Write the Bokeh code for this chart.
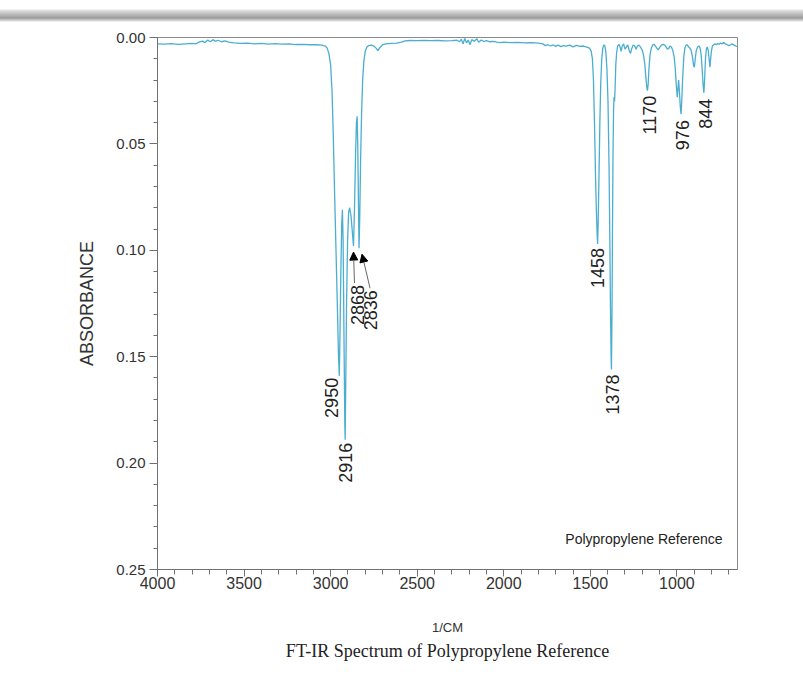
import math
from bokeh.plotting import figure
from bokeh.models import (Range1d, FixedTicker, NumeralTickFormatter, Label, Arrow,
                          NormalHead, Title, Div)
from bokeh.layouts import column
from bokeh.core.properties import value
from bokeh.embed import file_html
from bokeh.resources import INLINE

# ---------------- data ----------------
wavenumber = [
    4000, 3960, 3920, 3880, 3840, 3800, 3780, 3760, 3740, 3725, 3710, 3695, 3680, 3665,
    3650, 3630, 3610, 3590, 3560, 3520, 3480, 3440, 3400, 3360, 3320, 3280, 3240, 3200,
    3160, 3120, 3080, 3050, 3030, 3020, 3010, 3000, 2992, 2985, 2978, 2972, 2966, 2960,
    2955, 2950, 2946, 2941, 2936, 2932, 2928, 2923, 2918, 2916, 2913, 2908, 2902, 2896,
    2890, 2882, 2875, 2868, 2862, 2856, 2851, 2847, 2843, 2839, 2836, 2832, 2827, 2821,
    2815, 2808, 2800, 2790, 2780, 2765, 2750, 2738, 2727, 2716, 2700, 2680, 2650, 2620,
    2590, 2570, 2540, 2500, 2460, 2420, 2380, 2340, 2300, 2270, 2255, 2245, 2235, 2225,
    2215, 2205, 2195, 2185, 2170, 2155, 2145, 2130, 2115, 2100, 2080, 2060, 2040, 2020,
    2000, 1960, 1920, 1880, 1840, 1800, 1775, 1760, 1745, 1730, 1715, 1700, 1685, 1670,
    1655, 1640, 1620, 1600, 1580, 1560, 1540, 1520, 1505, 1495, 1488, 1482, 1476, 1470,
    1465, 1460, 1458, 1455, 1450, 1445, 1440, 1434, 1428, 1422, 1416, 1410, 1404, 1398,
    1392, 1388, 1384, 1380, 1378, 1375, 1372, 1369, 1366, 1363, 1360, 1357, 1353, 1348,
    1342, 1335, 1328, 1322, 1316, 1308, 1300, 1292, 1284, 1276, 1268, 1260, 1252, 1244,
    1236, 1228, 1220, 1210, 1200, 1192, 1185, 1179, 1173, 1170, 1166, 1161, 1155, 1148,
    1140, 1132, 1124, 1116, 1108, 1100, 1090, 1080, 1070, 1062, 1054, 1046, 1040, 1032,
    1024, 1016, 1010, 1004, 998, 994, 990, 985, 980, 976, 972, 966, 960, 954,
    947, 940, 932, 925, 918, 910, 904, 899, 894, 888, 880, 872, 866, 860,
    854, 849, 844, 840, 835, 830, 825, 819, 814, 809, 805, 800, 795, 788,
    780, 772, 764, 756, 748, 740, 730, 720, 710, 700, 690, 680, 670, 660, 650,
]
absorbance = [
    0.0030, 0.0031, 0.0029, 0.0032, 0.0030, 0.0028, 0.0030, 0.0022, 0.0017, 0.0024, 0.0012, 0.0020, 0.0010, 0.0018,
    0.0013, 0.0020, 0.0016, 0.0022, 0.0025, 0.0028, 0.0026, 0.0030, 0.0028, 0.0031, 0.0029, 0.0031, 0.0030, 0.0033,
    0.0032, 0.0034, 0.0034, 0.0036, 0.0040, 0.0050, 0.0075, 0.0130, 0.0250, 0.0450, 0.0700, 0.0900, 0.1100, 0.1300,
    0.1480, 0.1590, 0.1400, 0.1100, 0.0880, 0.0810, 0.0950, 0.1400, 0.1820, 0.1890, 0.1650, 0.1250, 0.0950, 0.0820,
    0.0800, 0.0840, 0.0910, 0.0980, 0.0800, 0.0550, 0.0400, 0.0370, 0.0520, 0.0800, 0.0990, 0.0850, 0.0580, 0.0350,
    0.0200, 0.0110, 0.0065, 0.0045, 0.0038, 0.0036, 0.0040, 0.0050, 0.0062, 0.0048, 0.0034, 0.0030, 0.0028, 0.0026,
    0.0022, 0.0016, 0.0014, 0.0015, 0.0014, 0.0015, 0.0014, 0.0016, 0.0015, 0.0013, 0.0020, 0.0008, 0.0030, 0.0005,
    0.0025, 0.0012, 0.0034, 0.0010, 0.0018, 0.0006, 0.0022, 0.0012, 0.0019, 0.0015, 0.0020, 0.0018, 0.0022, 0.0024,
    0.0022, 0.0024, 0.0023, 0.0025, 0.0024, 0.0026, 0.0030, 0.0038, 0.0034, 0.0040, 0.0035, 0.0042, 0.0036, 0.0043,
    0.0038, 0.0041, 0.0036, 0.0044, 0.0037, 0.0042, 0.0040, 0.0045, 0.0050, 0.0065, 0.0100, 0.0200, 0.0400, 0.0650,
    0.0820, 0.0940, 0.0970, 0.0880, 0.0650, 0.0400, 0.0220, 0.0100, 0.0050, 0.0035, 0.0040, 0.0070, 0.0150, 0.0300,
    0.0600, 0.0900, 0.1250, 0.1500, 0.1560, 0.1300, 0.0900, 0.0550, 0.0350, 0.0280, 0.0300, 0.0240, 0.0130, 0.0070,
    0.0040, 0.0032, 0.0045, 0.0065, 0.0040, 0.0030, 0.0055, 0.0045, 0.0035, 0.0060, 0.0075, 0.0050, 0.0035, 0.0040,
    0.0055, 0.0040, 0.0036, 0.0045, 0.0060, 0.0085, 0.0130, 0.0190, 0.0240, 0.0250, 0.0220, 0.0140, 0.0080, 0.0050,
    0.0035, 0.0032, 0.0040, 0.0050, 0.0058, 0.0048, 0.0036, 0.0032, 0.0036, 0.0045, 0.0055, 0.0050, 0.0040, 0.0045,
    0.0060, 0.0090, 0.0140, 0.0220, 0.0280, 0.0240, 0.0200, 0.0260, 0.0330, 0.0360, 0.0300, 0.0180, 0.0090, 0.0050,
    0.0035, 0.0035, 0.0045, 0.0050, 0.0060, 0.0090, 0.0130, 0.0140, 0.0100, 0.0060, 0.0045, 0.0040, 0.0050, 0.0080,
    0.0150, 0.0220, 0.0260, 0.0200, 0.0100, 0.0055, 0.0045, 0.0060, 0.0100, 0.0140, 0.0100, 0.0060, 0.0040, 0.0034,
    0.0030, 0.0034, 0.0028, 0.0032, 0.0026, 0.0030, 0.0024, 0.0030, 0.0034, 0.0038, 0.0034, 0.0030, 0.0036, 0.0040, 0.0042,
]

# labelled peaks
peak_labels = ["2950", "2916", "2868", "2836", "1458", "1378", "1170", "976", "844"]
peak_wn = [2950, 2916, 2868, 2836, 1458, 1378, 1170, 976, 844]
peak_abs = [0.159, 0.189, 0.098, 0.099, 0.097, 0.156, 0.025, 0.036, 0.026]

x_major_ticks = [4000, 3500, 3000, 2500, 2000, 1500, 1000]
x_minor_ticks = list(range(3900, 650, -100))
y_major_ticks = [0.00, 0.05, 0.10, 0.15, 0.20, 0.25]
y_minor_ticks = [i / 100 for i in range(0, 26)]

title_text = "FT-IR Spectrum of Polypropylene Reference"
x_label = "1/CM"
y_label = "ABSORBANCE"
inner_label = "Polypropylene Reference"

# ---------------- figure ----------------
FRAME_W, FRAME_H = 580, 532
X0, X1 = 4000, 650
Y0, Y1 = 0.25, 0.0
px_x = (X0 - X1) / FRAME_W      # cm-1 per pixel
px_y = (Y0 - Y1) / FRAME_H      # absorbance per pixel

p = figure(width=768, height=650, x_range=Range1d(X0, X1), y_range=Range1d(Y0, Y1),
           output_backend="svg", toolbar_location=None,
           min_border_left=157, min_border_right=31, min_border_top=15, min_border_bottom=103)
p.background_fill_color = "white"
p.border_fill_color = "white"
p.grid.visible = False
p.outline_line_color = "#8a8a8a"
p.outline_line_width = 1

LINE_BLUE = "#4aaed0"
p.line(wavenumber, absorbance, line_color=LINE_BLUE, line_width=1.3)

# axes styling
for ax in (p.xaxis[0], p.yaxis[0]):
    ax.axis_line_color = "#707070"
    ax.major_tick_line_color = "#707070"
    ax.minor_tick_line_color = "#707070"
    ax.major_tick_in = 0
    ax.minor_tick_in = 0
    ax.major_label_text_font = "Liberation Sans"
    ax.major_label_text_font_size = "15px"
    ax.major_label_text_color = "#333333"
    ax.axis_label_text_font = "Liberation Sans"
    ax.axis_label_text_font_style = "normal"
    ax.axis_label_text_color = "#333333"

p.xaxis.ticker = FixedTicker(ticks=x_major_ticks, minor_ticks=x_minor_ticks)
p.xaxis.formatter = NumeralTickFormatter(format="0")
p.xaxis.major_tick_out = 7
p.xaxis.minor_tick_out = 5
p.xaxis.major_label_standoff = 0
p.xaxis.major_label_text_font_size = "16px"
p.xaxis.axis_label = x_label
p.xaxis.axis_label_text_font_size = "13px"
p.xaxis.axis_label_standoff = 28

p.yaxis.ticker = FixedTicker(ticks=y_major_ticks, minor_ticks=y_minor_ticks)
p.yaxis.formatter = NumeralTickFormatter(format="0.00")
p.yaxis.major_tick_out = 8
p.yaxis.minor_tick_out = 4
p.yaxis.major_label_standoff = 4
p.yaxis.axis_label = y_label
p.yaxis.axis_label_text_font_size = "18px"
p.yaxis.axis_label_standoff = 16

# title below
p.add_layout(Title(text=title_text, align="center", text_font="Liberation Serif",
                   text_font_size="18px", text_font_style="normal", text_color="#222222",
                   standoff=2), "below")

# peak labels (rotated), offsets in screen pixels converted to data units
label_dx = [-8, 0, 4, 11, 0, 1, 2, 1, 2]
label_dy = [2, 3, 39, 42, 4, 5, 5, 6, 6]
lx = [w - dx * px_x for w, dx in zip(peak_wn, label_dx)]
ly = [a + dy * px_y for a, dy in zip(peak_abs, label_dy)]
p.text(x=lx, y=ly, text=peak_labels, angle=math.pi / 2, text_align="right",
       text_baseline="middle", text_font=value("Liberation Sans"),
       text_font_size=value("18px"), text_color="#222222")

# arrows to 2868 and 2836
arrow_specs = [(2, (1, 37), (0, 6)), (3, (11, 40), (3, 6))]
for idx, (sx0, sy0), (sx1, sy1) in arrow_specs:
    w, a = peak_wn[idx], peak_abs[idx]
    p.add_layout(Arrow(end=NormalHead(size=8, fill_color="black", line_color="black"),
                       x_start=w - sx0 * px_x, y_start=a + sy0 * px_y,
                       x_end=w - sx1 * px_x, y_end=a + sy1 * px_y,
                       line_color="#666666", line_width=1))

# inner label
p.add_layout(Label(x=X1 + 15 * px_x, y=Y0 - 31 * px_y, text=inner_label,
                   text_align="right", text_baseline="middle",
                   text_font="Liberation Sans", text_font_size="14px", text_color="#222222"))

bar = Div(text="", width=803, height=22, margin=(0, 0, 0, 0),
          styles={"background": "linear-gradient(to bottom, #ffffff 0px, #ffffff 9px, #e4e4e4 10px, "
                                "#bdbdbd 14px, #9c9c9c 18px, #dedede 21px, #ffffff 22px)"})

layout = column(bar, p, spacing=0)
open("out.html", "w").write(file_html(layout, INLINE))
